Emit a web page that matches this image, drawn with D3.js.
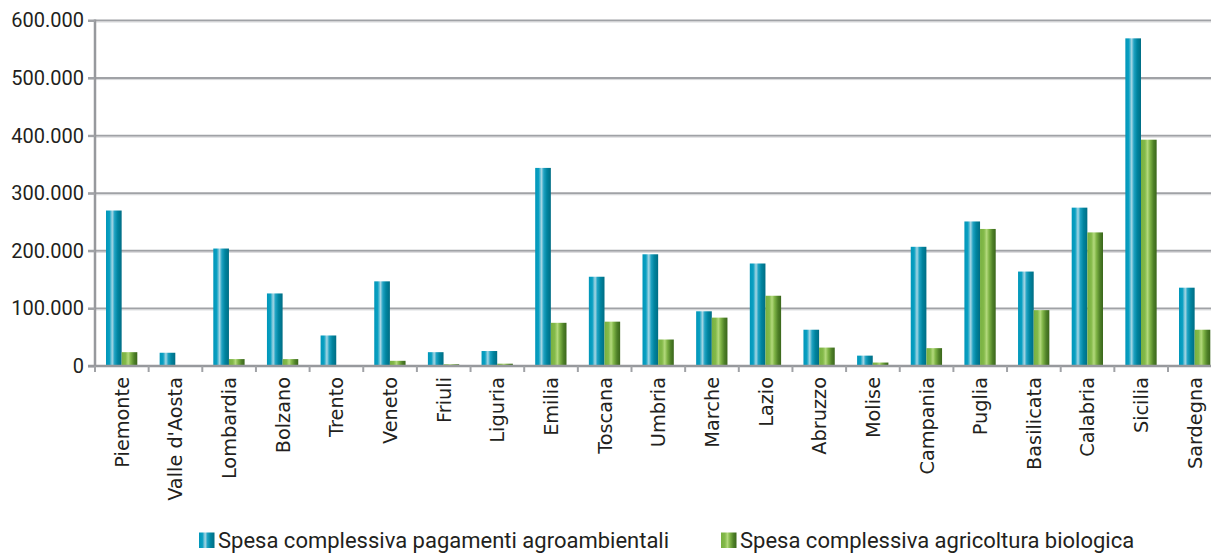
<!DOCTYPE html>
<html>
<head>
<meta charset="utf-8">
<script src="https://cdn.jsdelivr.net/npm/d3@7"></script>
<style>
  html, body { margin: 0; padding: 0; background: #fff; }
  svg { display: block; }
</style>
</head>
<body>
<svg id="chart" width="1211" height="555"></svg>
<script>
// Regions (x-axis categories)
const regions = ["Piemonte", "Valle d'Aosta", "Lombardia", "Bolzano", "Trento", "Veneto",
  "Friuli", "Liguria", "Emilia", "Toscana", "Umbria", "Marche", "Lazio", "Abruzzo",
  "Molise", "Campania", "Puglia", "Basilicata", "Calabria", "Sicilia", "Sardegna"];

// Series names (legend)
const seriesNames = ["Spesa complessiva pagamenti agroambientali",
  "Spesa complessiva agricoltura biologica"];

// Total agri-environment payments per region
const spesaAgroambientali = [270000, 23000, 204000, 126000, 53000, 147000, 24000, 26000,
  344000, 155000, 194000, 95000, 178000, 63000, 18000, 207000, 251000, 164000, 275000,
  569000, 136000];

// Total organic farming payments per region
const spesaBiologica = [24000, 0, 12000, 12000, 0, 9000, 3000, 4000, 75000, 77000, 46000,
  84000, 122000, 32000, 6000, 31000, 238000, 97000, 232000, 393000, 63000];

// Y-axis tick values
const yTicks = [0, 100000, 200000, 300000, 400000, 500000, 600000];

const svg = d3.select("#chart");
const margin = { left: 95, top: 20.5, bottom: 366 };
const bandW = 53.65;

const it = d3.formatLocale({ decimal: ",", thousands: ".", grouping: [3], currency: ["€", ""] });
const fmt = it.format(",");

const x0 = d3.scaleBand().domain(regions)
  .range([margin.left, margin.left + bandW * regions.length]).padding(0);
const x1 = d3.scaleBand().domain([0, 1]).range([11, 42.3]).padding(0);
const y = d3.scaleLinear().domain([0, 600000]).range([margin.bottom, margin.top]);

// Cylinder-like shading for the bars
const defs = svg.append("defs");
function cylGradient(id, stops) {
  const g = defs.append("linearGradient").attr("id", id)
    .attr("x1", "0%").attr("x2", "100%").attr("y1", "0%").attr("y2", "0%");
  stops.forEach(([o, c]) => g.append("stop").attr("offset", o).attr("stop-color", c));
}
cylGradient("gradBlue", [["0%", "#0096b9"], ["22%", "#0aa0c2"], ["40%", "#a6d6e4"],
  ["55%", "#1ea2c2"], ["75%", "#00849f"], ["100%", "#006d84"]]);
cylGradient("gradGreen", [["0%", "#78b040"], ["25%", "#84ba4a"], ["42%", "#b3d97c"],
  ["58%", "#7fb446"], ["80%", "#4f8128"], ["100%", "#3a661b"]]);
const fills = ["url(#gradBlue)", "url(#gradGreen)"];

// Horizontal gridlines with y tick marks
const gridG = svg.append("g");
gridG.selectAll("line.grid").data(yTicks.filter(d => d > 0)).join("line")
  .attr("class", "grid")
  .attr("x1", margin.left - 7).attr("x2", 1211)
  .attr("y1", d => y(d)).attr("y2", d => y(d))
  .attr("stroke", "#a0a2a6").attr("stroke-width", 2);
gridG.selectAll("line.grid2").data(yTicks.filter(d => d > 0)).join("line")
  .attr("x1", margin.left).attr("x2", 1211)
  .attr("y1", d => y(d) + 1.5).attr("y2", d => y(d) + 1.5)
  .attr("stroke", "#d6d7d9").attr("stroke-width", 1);

// Bars
const data = regions.map((r, i) => ({ region: r, values: [spesaAgroambientali[i], spesaBiologica[i]] }));
svg.append("g").selectAll("g").data(data).join("g")
  .attr("transform", d => `translate(${x0(d.region)},0)`)
  .selectAll("rect").data(d => d.values.map((v, k) => ({ v, k }))).join("rect")
  .attr("x", d => x1(d.k)).attr("width", x1.bandwidth())
  .attr("y", d => y(d.v)).attr("height", d => y(0) - y(d.v))
  .attr("fill", d => fills[d.k]);

// Y axis
const yAxis = d3.axisLeft(y).tickValues(yTicks).tickFormat(d => fmt(d)).tickSize(7).tickPadding(4);
const yG = svg.append("g").attr("transform", `translate(${margin.left},0)`).call(yAxis);
yG.select(".domain").attr("stroke", "#97999d").attr("stroke-width", 2.5)
  .attr("d", `M0,${margin.top - 1}V${margin.bottom + 1}`);
yG.selectAll(".tick line").attr("stroke", "#a0a2a6").attr("stroke-width", 2);
yG.selectAll(".tick text").attr("fill", "#231f20")
  .style("font-family", "Roboto, 'DejaVu Sans', sans-serif").style("font-size", "20px");

// X axis
const xAxis = d3.axisBottom(x0).tickSize(0).tickPadding(0);
const xG = svg.append("g").attr("transform", `translate(0,${margin.bottom})`).call(xAxis);
xG.select(".domain").attr("stroke", "#97999d").attr("stroke-width", 2.5)
  .attr("d", `M${margin.left - 7},0H1211`);
xG.selectAll(".tick text")
  .attr("transform", "rotate(-90)")
  .attr("x", -11).attr("y", 0).attr("dy", "0.36em")
  .attr("text-anchor", "end").attr("fill", "#231f20")
  .style("font-family", "'DejaVu Sans', sans-serif").style("font-size", "19.3px");
// Tick marks at the category boundaries
xG.selectAll("line.sep").data(d3.range(regions.length + 1)).join("line")
  .attr("class", "sep")
  .attr("x1", i => margin.left + i * bandW).attr("x2", i => margin.left + i * bandW)
  .attr("y1", 0).attr("y2", 6)
  .attr("stroke", "#a0a2a6").attr("stroke-width", 2);

// Legend
const legend = [
  { name: seriesNames[0], x: 199, fill: fills[0] },
  { name: seriesNames[1], x: 721, fill: fills[1] }
];
const lg = svg.append("g").selectAll("g").data(legend).join("g")
  .attr("transform", d => `translate(${d.x},532.5)`);
lg.append("rect").attr("width", 15.5).attr("height", 15.5).attr("fill", d => d.fill);
lg.append("text").attr("x", 19).attr("y", 15.5)
  .attr("fill", "#231f20")
  .style("font-family", "Roboto, 'DejaVu Sans', sans-serif").style("font-size", "22px")
  .text(d => d.name);
</script>
</body>
</html>
